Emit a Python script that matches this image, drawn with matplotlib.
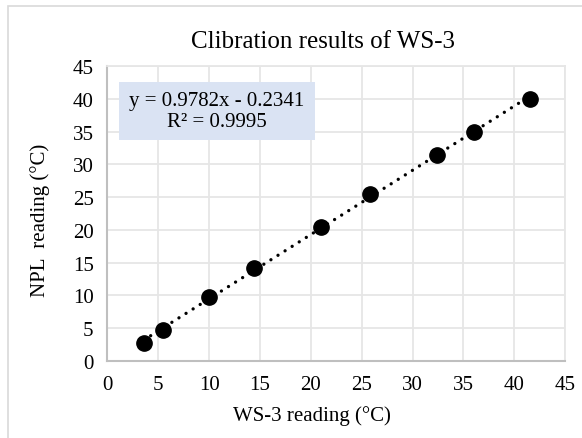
import matplotlib
matplotlib.use('Agg')
import matplotlib.pyplot as plt
import numpy as np
from matplotlib.patches import Rectangle

# WS-3 calibration points
ws3_reading = [3.55, 5.45, 10.0, 14.4, 21.0, 25.8, 32.4, 36.0, 41.6]
npl_reading = [2.7, 4.8, 9.7, 14.2, 20.4, 25.4, 31.4, 35.0, 40.0]
ticks = [0, 5, 10, 15, 20, 25, 30, 35, 40, 45]
eq_text = "y = 0.9782x - 0.2341\nR² = 0.9995"

plt.rcParams['font.family'] = ['Liberation Serif', 'DejaVu Serif']

fig = plt.figure(figsize=(5.82, 4.39), dpi=100)
ax = fig.add_axes([0.1847, 0.1754, 0.7861, 0.6720])

# chart border
fig.patches.append(Rectangle((8/582, -0.1), 1.2, 1.1 - 7/439, transform=fig.transFigure,
                             fill=False, edgecolor='#d9d9d9', linewidth=1.2))

# linear trendline
p = np.polyfit(ws3_reading, npl_reading, 1)
xs = np.array([min(ws3_reading), max(ws3_reading)])
ax.plot(xs, np.polyval(p, xs), color='black', linewidth=2.4,
        linestyle=(0, (0.01, 2.5)), dash_capstyle='round', zorder=2)
ax.plot(ws3_reading, npl_reading, 'o', color='black', markersize=11, zorder=3)

ax.set_xlim(0, 45)
ax.set_ylim(0, 45)
ax.set_xticks(ticks)
ax.set_yticks(ticks)
ax.tick_params(length=0, labelsize=15, pad=10)
ax.grid(True, color='#e6e6e6', linewidth=1.3)
ax.set_axisbelow(True)
for s in ['top', 'right']:
    ax.spines[s].set_color('#e6e6e6')
    ax.spines[s].set_linewidth(1.3)
for s in ['left', 'bottom']:
    ax.spines[s].set_color('#bfbfbf')
    ax.spines[s].set_linewidth(1.5)

ax.set_title('Clibration results of WS-3', fontsize=18, pad=14, x=0.472)
ax.set_xlabel('WS-3 reading (°C)', fontsize=15)
ax.set_ylabel('NPL  reading (°C)', fontsize=15)
ax.xaxis.set_label_coords(0.447, -0.15)
ax.yaxis.set_label_coords(-0.125, 0.48)

# equation box
ax.add_patch(Rectangle((0.025, 0.75), 0.428, 0.197, transform=ax.transAxes,
                       facecolor='#dae3f3', edgecolor='none', zorder=4))
ax.text(0.239, 0.848, eq_text, transform=ax.transAxes, ha='center', va='center',
        fontsize=15, linespacing=1.15, zorder=5)

fig.savefig('out.png', dpi=100)
